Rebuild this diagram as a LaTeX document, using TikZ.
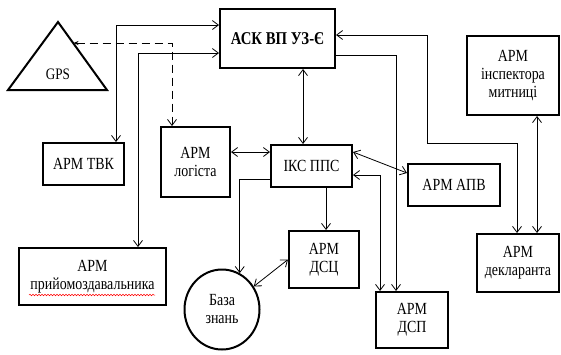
\documentclass[tikz,border=0pt]{standalone}
\usepackage{fontspec}
\setmainfont{Liberation Serif}[FakeStretch=0.82]
\usetikzlibrary{arrows.meta,shapes.geometric,decorations.pathmorphing}
\begin{document}
\begin{tikzpicture}[x=1pt,y=-1pt,
  box/.style={draw,line width=2pt,inner sep=0pt,align=center,
    font=\fontsize{17}{18}\selectfont},
  conn/.style={line width=0.8pt,{Straight Barb[length=6pt,width=9pt]}-{Straight Barb[length=6pt,width=9pt]}},
  conn1/.style={line width=0.8pt,-{Straight Barb[length=6pt,width=9pt]}}]
\useasboundingbox (0,0) rectangle (561,354);
% nodes
\node[box,font=\bfseries\fontsize{18}{19}\selectfont,minimum width=115pt,minimum height=59pt] (ask) at (277.5,38.5) {АСК ВП УЗ-Є};
\node[box,minimum width=81pt,minimum height=42pt] (tvk) at (83.5,164) {АРМ ТВК};
\node[box,minimum width=69pt,minimum height=70pt] (log) at (195.5,162) {АРМ\\логіста};
\node[box,minimum width=81pt,minimum height=42pt] (iks) at (311.5,166) {ІКС ППС};
\node[box,minimum width=92pt,minimum height=42pt] (apv) at (454,185) {АРМ АПВ};
\node[box,minimum width=70pt,minimum height=57pt] (dsc) at (324,259.5) {АРМ\\ДСЦ};
\node[box,minimum width=72pt,minimum height=56pt] (dsp) at (412,320) {АРМ\\ДСП};
\node[box,minimum width=92pt,minimum height=79pt] (insp) at (513,75.5) {АРМ\\інспектора\\митниці};
\node[box,minimum width=82pt,minimum height=58pt] (dekl) at (518,263) {АРМ\\декларанта};
\node[box,minimum width=147pt,minimum height=57pt] (prm) at (92.5,276.5) {АРМ\\прийомоздавальника};
\node[box,ellipse,minimum width=75pt,minimum height=80pt] (baza) at (222,309.5) {База\\знань};
% red spell-check underline
\draw[red,line width=0.5pt,decorate,decoration={snake,amplitude=0.8pt,segment length=3pt}] (29,295) -- (155,295);
% GPS triangle
\coordinate (gA) at (58,22);
\coordinate (gB) at (8,90);
\coordinate (gC) at (107,90);
\draw[line width=2pt,line join=miter] (gA) -- (gB) -- (gC) -- cycle;
\node[font=\fontsize{16}{17}\selectfont] (gps) at (58,74) {GPS};
\coordinate (gdash) at (73.5,43);
% connectors
\draw[conn] (ask.west |- 0,25) -| (tvk.north -| 116,0);
\draw[conn] (ask.west |- 0,53) -| (prm.north -| 138,0);
\draw[line width=0.8pt,dash pattern=on 8pt off 5pt,{Stealth[length=5pt,width=4pt]}-{Straight Barb[length=6pt,width=9pt]}] (gdash) -| (log.north -| 172,0);
\draw[conn] (ask.south -| 303,0) -- (iks.north -| 303,0);
\draw[conn] (log.east |- 0,152) -- (iks.west |- 0,152);
\draw[conn] (iks.east |- 0,152) -- (apv.west |- 0,173);
\draw[conn1] (iks.south -| 326,0) -- (dsc.north -| 326,0);
\draw[conn1] (iks.west |- 0,179) -| (baza.64);
\draw[conn] (baza.36) -- (dsc.west);
\draw[conn] (iks.east |- 0,175) -| (dsp.north -| 380,0);
\draw[conn1] (ask.east |- 0,55) -| (dsp.north -| 396,0);
\draw[conn] (ask.east |- 0,35) -| (427,143) -| (dekl.north -| 517,0);
\draw[conn] (insp.south -| 537,0) -- (dekl.north -| 537,0);
\end{tikzpicture}
\end{document}
